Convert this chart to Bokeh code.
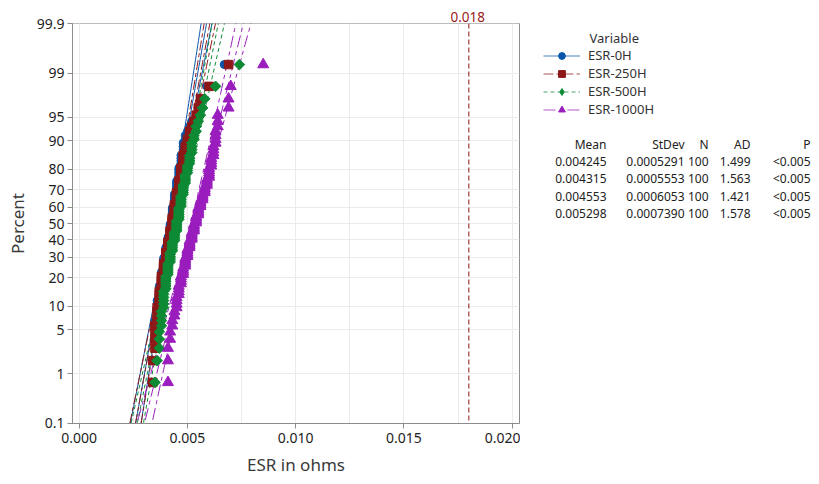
import math
import numpy as np
from bokeh.plotting import figure
from bokeh.layouts import row
from bokeh.models import (Range1d, FixedTicker, Span, Label, Legend, LegendItem, Title)
from bokeh.embed import file_html
from bokeh.resources import INLINE

# ---------------- data ----------------
series_names = ["ESR-0H", "ESR-250H", "ESR-500H", "ESR-1000H"]
means = [0.004245, 0.004315, 0.004553, 0.005298]
stdevs = [0.0005291, 0.0005553, 0.0006053, 0.0007390]
n_obs = [100, 100, 100, 100]
ad_stats = ["1.499", "1.563", "1.421", "1.578"]
p_values = ["<0.005", "<0.005", "<0.005", "<0.005"]
percent_ticks = [0.1, 1, 5, 10, 20, 30, 40, 50, 60, 70, 80, 90, 95, 99, 99.9]
x_ticks = [0.000, 0.005, 0.010, 0.015, 0.020]
x_minor = [0.0025, 0.0075, 0.0125, 0.0175]
ref_value = 0.018

esr_0h = [
    0.0034, 0.0034, 0.0035, 0.0035, 0.0035, 0.0035, 0.0035, 0.0036, 0.0036, 0.0036,
    0.0036, 0.0036, 0.0037, 0.0037, 0.0037, 0.0037, 0.0037, 0.0038, 0.0038, 0.0038,
    0.0038, 0.0038, 0.0038, 0.0039, 0.0039, 0.0039, 0.0039, 0.0039, 0.0039, 0.0039,
    0.0040, 0.0040, 0.0040, 0.0040, 0.0040, 0.0040, 0.0041, 0.0041, 0.0041, 0.0041,
    0.0041, 0.0041, 0.0042, 0.0042, 0.0042, 0.0042, 0.0042, 0.0042, 0.0042, 0.0042,
    0.0043, 0.0043, 0.0043, 0.0043, 0.0043, 0.0043, 0.0043, 0.0043, 0.0043, 0.0043,
    0.0044, 0.0044, 0.0044, 0.0044, 0.0044, 0.0044, 0.0044, 0.0044, 0.0045, 0.0045,
    0.0045, 0.0045, 0.0045, 0.0045, 0.0045, 0.0046, 0.0046, 0.0046, 0.0046, 0.0046,
    0.0046, 0.0047, 0.0047, 0.0047, 0.0047, 0.0047, 0.0048, 0.0048, 0.0048, 0.0048,
    0.0049, 0.0049, 0.0050, 0.0051, 0.0052, 0.0054, 0.0055, 0.0056, 0.0059, 0.0067,
]
esr_250h = [
    0.0034, 0.0034, 0.0035, 0.0035, 0.0035, 0.0035, 0.0036, 0.0036, 0.0036, 0.0036,
    0.0037, 0.0037, 0.0037, 0.0037, 0.0037, 0.0038, 0.0038, 0.0038, 0.0038, 0.0038,
    0.0038, 0.0039, 0.0039, 0.0039, 0.0039, 0.0039, 0.0039, 0.0040, 0.0040, 0.0040,
    0.0040, 0.0040, 0.0040, 0.0041, 0.0041, 0.0041, 0.0041, 0.0041, 0.0041, 0.0042,
    0.0042, 0.0042, 0.0042, 0.0042, 0.0042, 0.0042, 0.0043, 0.0043, 0.0043, 0.0043,
    0.0043, 0.0043, 0.0043, 0.0043, 0.0044, 0.0044, 0.0044, 0.0044, 0.0044, 0.0044,
    0.0044, 0.0044, 0.0045, 0.0045, 0.0045, 0.0045, 0.0045, 0.0045, 0.0045, 0.0046,
    0.0046, 0.0046, 0.0046, 0.0046, 0.0046, 0.0047, 0.0047, 0.0047, 0.0047, 0.0047,
    0.0047, 0.0048, 0.0048, 0.0048, 0.0048, 0.0048, 0.0049, 0.0049, 0.0049, 0.0050,
    0.0050, 0.0051, 0.0051, 0.0052, 0.0053, 0.0054, 0.0055, 0.0056, 0.0060, 0.0069,
]
esr_500h = [
    0.0035, 0.0036, 0.0037, 0.0037, 0.0037, 0.0038, 0.0038, 0.0038, 0.0038, 0.0039,
    0.0039, 0.0039, 0.0039, 0.0039, 0.0039, 0.0040, 0.0040, 0.0040, 0.0040, 0.0040,
    0.0040, 0.0041, 0.0041, 0.0041, 0.0041, 0.0041, 0.0041, 0.0042, 0.0042, 0.0042,
    0.0042, 0.0042, 0.0042, 0.0043, 0.0043, 0.0043, 0.0043, 0.0043, 0.0043, 0.0044,
    0.0044, 0.0044, 0.0044, 0.0044, 0.0044, 0.0045, 0.0045, 0.0045, 0.0045, 0.0045,
    0.0045, 0.0045, 0.0046, 0.0046, 0.0046, 0.0046, 0.0046, 0.0046, 0.0046, 0.0046,
    0.0047, 0.0047, 0.0047, 0.0047, 0.0047, 0.0047, 0.0047, 0.0048, 0.0048, 0.0048,
    0.0048, 0.0048, 0.0048, 0.0049, 0.0049, 0.0049, 0.0049, 0.0049, 0.0050, 0.0050,
    0.0050, 0.0050, 0.0051, 0.0051, 0.0051, 0.0051, 0.0052, 0.0052, 0.0052, 0.0052,
    0.0053, 0.0053, 0.0054, 0.0054, 0.0055, 0.0056, 0.0057, 0.0058, 0.0063, 0.0074,
]
esr_1000h = [
    0.0041, 0.0041, 0.0041, 0.0042, 0.0042, 0.0043, 0.0043, 0.0044, 0.0044, 0.0045,
    0.0045, 0.0045, 0.0045, 0.0046, 0.0046, 0.0046, 0.0046, 0.0047, 0.0047, 0.0047,
    0.0047, 0.0048, 0.0048, 0.0048, 0.0048, 0.0049, 0.0049, 0.0049, 0.0049, 0.0049,
    0.0050, 0.0050, 0.0050, 0.0050, 0.0050, 0.0051, 0.0051, 0.0051, 0.0051, 0.0051,
    0.0052, 0.0052, 0.0052, 0.0052, 0.0052, 0.0053, 0.0053, 0.0053, 0.0053, 0.0053,
    0.0054, 0.0054, 0.0054, 0.0054, 0.0054, 0.0055, 0.0055, 0.0055, 0.0055, 0.0055,
    0.0056, 0.0056, 0.0056, 0.0056, 0.0057, 0.0057, 0.0057, 0.0057, 0.0058, 0.0058,
    0.0058, 0.0058, 0.0059, 0.0059, 0.0059, 0.0059, 0.0060, 0.0060, 0.0060, 0.0060,
    0.0060, 0.0061, 0.0061, 0.0061, 0.0061, 0.0062, 0.0062, 0.0062, 0.0062, 0.0063,
    0.0063, 0.0063, 0.0063, 0.0064, 0.0064, 0.0064, 0.0069, 0.0069, 0.0070, 0.0085,
]
series_values = [esr_0h, esr_250h, esr_500h, esr_1000h]

# ---------------- styles ----------------
colors = ["#0A56AA", "#8E1818", "#0E8A35", "#9A1DBD"]
dashes = ["solid", "10 3 4 3", "4 3", "12 4 4 4"]
markers = ["circle", "square", "square", "triangle"]
legend_markers = ["circle", "square", "diamond", "triangle"]
msizes = [8, 8.5, 7.5, 11]
legend_msizes = [9, 9, 13, 11]
mangles = [0, 0, math.pi / 4, 0]
FONT = "Noto Sans"

# geometry in picture px (figures start at the picture's top-left)
H = 478
FL, FT, FR, FB = 72, 23, 519, 424     # plot frame
W1 = 520                              # plot figure width
W2 = 815 - W1                         # side panel width


def norm_cdf(z):
    return 0.5 * (1.0 + math.erf(z / math.sqrt(2.0)))


def norm_ppf(p):
    lo, hi = -10.0, 10.0
    for _ in range(200):
        mid = 0.5 * (lo + hi)
        if norm_cdf(mid) < p:
            lo = mid
        else:
            hi = mid
    return 0.5 * (lo + hi)


zlim = norm_ppf(0.999)
p = figure(width=W1, height=H, output_backend="svg", toolbar_location=None,
           x_range=Range1d(-0.00031, 0.02034), y_range=Range1d(-zlim - 0.004, zlim + 0.004),
           min_border_left=FL, min_border_right=W1 - FR,
           min_border_top=FT, min_border_bottom=H - FB,
           background_fill_color="white", border_fill_color="white", title=None)
p.outline_line_color = "#8c8c8c"

# label of the reference line, shown above the frame
p.add_layout(Title(text=f"{ref_value:.3f}", align="left", offset=378, standoff=3,
                   text_color="#9a1a1a", text_font=FONT, text_font_size="13.5px",
                   text_font_style="normal"), "above")

# axes
ytick_z = [norm_ppf(v / 100.0) for v in percent_ticks]
p.yaxis.ticker = FixedTicker(ticks=ytick_z)
p.yaxis.major_label_overrides = {z: (f"{v:g}") for z, v in zip(ytick_z, percent_ticks)}
p.xaxis.ticker = FixedTicker(ticks=x_ticks, minor_ticks=x_minor)
p.xaxis.major_label_overrides = {t: f"{t:.3f}" for t in x_ticks}
for ax in (p.xaxis[0], p.yaxis[0]):
    ax.axis_line_color = "#8c8c8c"
    ax.major_tick_line_color = "#8c8c8c"
    ax.major_tick_out = 5
    ax.major_tick_in = 0
    ax.minor_tick_line_color = None
    ax.major_label_text_font = FONT
    ax.major_label_text_font_size = "14px"
    ax.major_label_text_color = "#1e1e1e"
    ax.axis_label_text_font = FONT
    ax.axis_label_text_font_size = "17px"
    ax.axis_label_text_font_style = "normal"
    ax.axis_label_text_color = "#3a3a3a"
p.xaxis.axis_label = "ESR in ohms"
p.yaxis.axis_label = "Percent"
p.xaxis.major_label_standoff = 4
p.yaxis.major_label_standoff = 3
p.xaxis.axis_label_standoff = 7
p.yaxis.axis_label_standoff = 5

p.xgrid.grid_line_color = "#ebebeb"
p.xgrid.minor_grid_line_color = "#ebebeb"
p.ygrid.grid_line_color = "#ebebeb"

# reference line
p.add_layout(Span(location=ref_value, dimension="height", line_color="#8a1515",
                  line_dash="5 3", line_width=1))

# fitted lines and 95% confidence bands
zz = np.linspace(-3.4, 3.4, 120)
for mu, sd, n, col, dsh in zip(means, stdevs, n_obs, colors, dashes):
    fit = mu + zz * sd
    se = sd / math.sqrt(n) * np.sqrt(1.0 + zz ** 2 / 2.0)
    p.line(fit, zz, line_color=col, line_width=1, line_dash=dsh)
    p.line(fit - 1.96 * se, zz, line_color=col, line_width=1, line_dash=dsh)
    p.line(fit + 1.96 * se, zz, line_color=col, line_width=1, line_dash=dsh)

# points at median-rank plotting positions
for vals, col, mk, ms, ang in zip(series_values, colors, markers, msizes, mangles):
    xs = sorted(vals)
    n = len(xs)
    ys = [norm_ppf((i + 1 - 0.3) / (n + 0.4)) for i in range(n)]
    p.scatter(xs, ys, marker=mk, size=ms, angle=ang, fill_color=col, line_color=col)

# ---------------- side panel: legend and statistics table ----------------
# its frame is aligned with the plot frame (rows align frames); data coords = picture px
p2 = figure(width=W2, height=H, output_backend="svg", toolbar_location=None,
            x_range=Range1d(W1, W1 + W2), y_range=Range1d(FB, FT),
            min_border_left=0, min_border_right=0,
            min_border_bottom=H - FB, min_border_top=FT,
            x_axis_location=None, y_axis_location=None, title=None,
            background_fill_color="white", border_fill_color="white")
p2.outline_line_color = None
p2.xgrid.visible = False
p2.ygrid.visible = False

items = []
for nm, col, dsh, mk, ms in zip(series_names, colors, dashes, legend_markers, legend_msizes):
    lr = p2.line(x=[np.nan], y=[np.nan], line_color=col, line_width=1, line_dash=dsh,
                 line_alpha=0.75)
    sr = p2.scatter(x=[np.nan], y=[np.nan], marker=mk, size=ms, fill_color=col,
                    line_color=col)
    items.append(LegendItem(label=nm, renderers=[lr, sr]))

legend = Legend(items=items, location="top_left", orientation="vertical",
                margin=23, padding=0, spacing=0,
                glyph_width=37, glyph_height=17, label_height=17, label_standoff=8,
                border_line_color=None, background_fill_alpha=0,
                label_text_font=FONT, label_text_font_size="13px",
                label_text_color="#333333")
p2.add_layout(legend)


def add_text(txt, px, py, align="left", color="#333333", size="13px"):
    p2.add_layout(Label(x=px, y=py, text=txt, text_align=align,
                        text_baseline="middle", text_font=FONT,
                        text_font_size=size, text_color=color))


add_text("Variable", 589, 38)

col_right = [606, 684, 708, 750, 810]
headers = ["Mean", "StDev", "N", "AD", "P"]
for h, cx in zip(headers, col_right):
    add_text(h, cx, 144, align="right", color="#222222", size="12px")
row_y = [161, 178.5, 196, 213.5]
for k in range(4):
    cells = [f"{means[k]:.6f}", f"{stdevs[k]:.7f}", str(n_obs[k]), ad_stats[k], p_values[k]]
    for c, cx in zip(cells, col_right):
        add_text(c, cx, row_y[k], align="right", color="#222222", size="12px")

layout = row(p, p2)
open("out.html", "w").write(file_html(layout, INLINE))
